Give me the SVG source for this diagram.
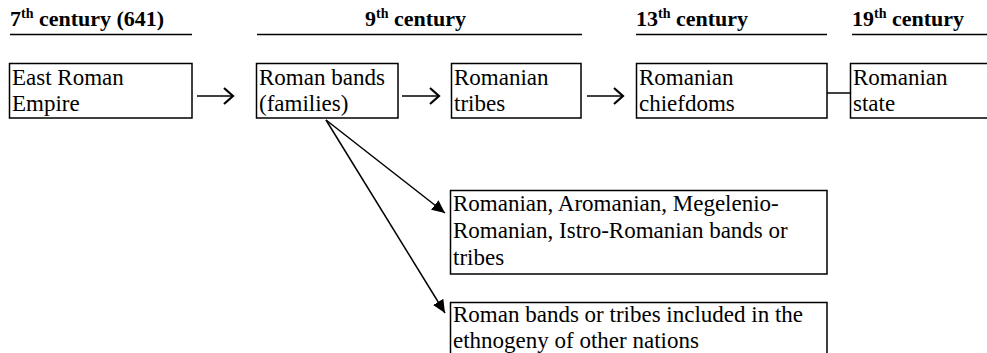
<svg xmlns="http://www.w3.org/2000/svg" width="987" height="353" viewBox="0 0 987 353">
<style>
.hd{font-weight:bold;font-size:22px;fill:#000}
.tx{font-size:23px;fill:#000}
.ul{stroke:#000;stroke-width:1.6}
.bx{fill:#fff;stroke:#000;stroke-width:1.5}
.ln{stroke:#000;stroke-width:1.5;fill:none}
</style>
<defs>
<marker id="chev" markerWidth="12" markerHeight="18" refX="10" refY="9" orient="auto" markerUnits="userSpaceOnUse">
<path d="M1,1 L10,9 L1,17" fill="none" stroke="#000" stroke-width="2.2"/>
</marker>
<marker id="tri" markerWidth="14" markerHeight="12" refX="13" refY="6" orient="auto" markerUnits="userSpaceOnUse">
<path d="M0,0 L13,6 L0,12 Z" fill="#000"/>
</marker>
</defs>
<g font-family="Liberation Serif, DejaVu Serif, serif">
<g id="headers">
<text class="hd" x="10" y="26">7<tspan font-size="14" dy="-8">th</tspan><tspan dy="8"> century (641)</tspan></text>
<line class="ul" x1="10" y1="34.5" x2="192" y2="34.5"/>
<text class="hd" x="365" y="26">9<tspan font-size="14" dy="-8">th</tspan><tspan dy="8"> century</tspan></text>
<line class="ul" x1="257" y1="34.5" x2="582" y2="34.5"/>
<text class="hd" x="636" y="26">13<tspan font-size="14" dy="-8">th</tspan><tspan dy="8"> century</tspan></text>
<line class="ul" x1="636" y1="34.5" x2="827" y2="34.5"/>
<text class="hd" x="852" y="26">19<tspan font-size="14" dy="-8">th</tspan><tspan dy="8"> century</tspan></text>
<line class="ul" x1="852" y1="34.5" x2="987" y2="34.5"/>
</g>
<g id="connectors">
<line class="ln" x1="197" y1="96" x2="233" y2="96" marker-end="url(#chev)"/>
<line class="ln" x1="402" y1="96" x2="439" y2="96" marker-end="url(#chev)"/>
<line class="ln" x1="587" y1="96" x2="623" y2="96" marker-end="url(#chev)"/>
<line class="ln" x1="827" y1="93" x2="850" y2="93"/>
<line class="ln" x1="326" y1="120" x2="445" y2="213" marker-end="url(#tri)"/>
<line class="ln" x1="326" y1="120" x2="445" y2="313" marker-end="url(#tri)"/>
</g>
<g id="n1">
<rect class="bx" x="9.5" y="63.5" width="182.5" height="54.5"/>
<text class="tx" x="12" y="85">East Roman</text>
<text class="tx" x="12" y="111">Empire</text>
</g>
<g id="n2">
<rect class="bx" x="256.5" y="63.5" width="141.5" height="54.5"/>
<text class="tx" x="259" y="85">Roman bands</text>
<text class="tx" x="259" y="111">(families)</text>
</g>
<g id="n3">
<rect class="bx" x="451.5" y="63.5" width="129.5" height="54.5"/>
<text class="tx" x="454" y="85">Romanian</text>
<text class="tx" x="454" y="111">tribes</text>
</g>
<g id="n4">
<rect class="bx" x="636.5" y="63.5" width="190.5" height="54.5"/>
<text class="tx" x="639" y="85">Romanian</text>
<text class="tx" x="639" y="111">chiefdoms</text>
</g>
<g id="n5">
<rect class="bx" x="850.5" y="63.5" width="145" height="54.5"/>
<text class="tx" x="853" y="85">Romanian</text>
<text class="tx" x="853" y="111">state</text>
</g>
<g id="n6">
<rect class="bx" x="450.5" y="190.5" width="376.5" height="83.5"/>
<text class="tx" x="453" y="211">Romanian, Aromanian, Megelenio-</text>
<text class="tx" x="453" y="238">Romanian, Istro-Romanian bands or</text>
<text class="tx" x="453" y="265">tribes</text>
</g>
<g id="n7">
<rect class="bx" x="450.5" y="302.5" width="376.5" height="60"/>
<text class="tx" x="453" y="322">Roman bands or tribes included in the</text>
<text class="tx" x="453" y="348">ethnogeny of other nations</text>
</g>
</g>
</svg>
